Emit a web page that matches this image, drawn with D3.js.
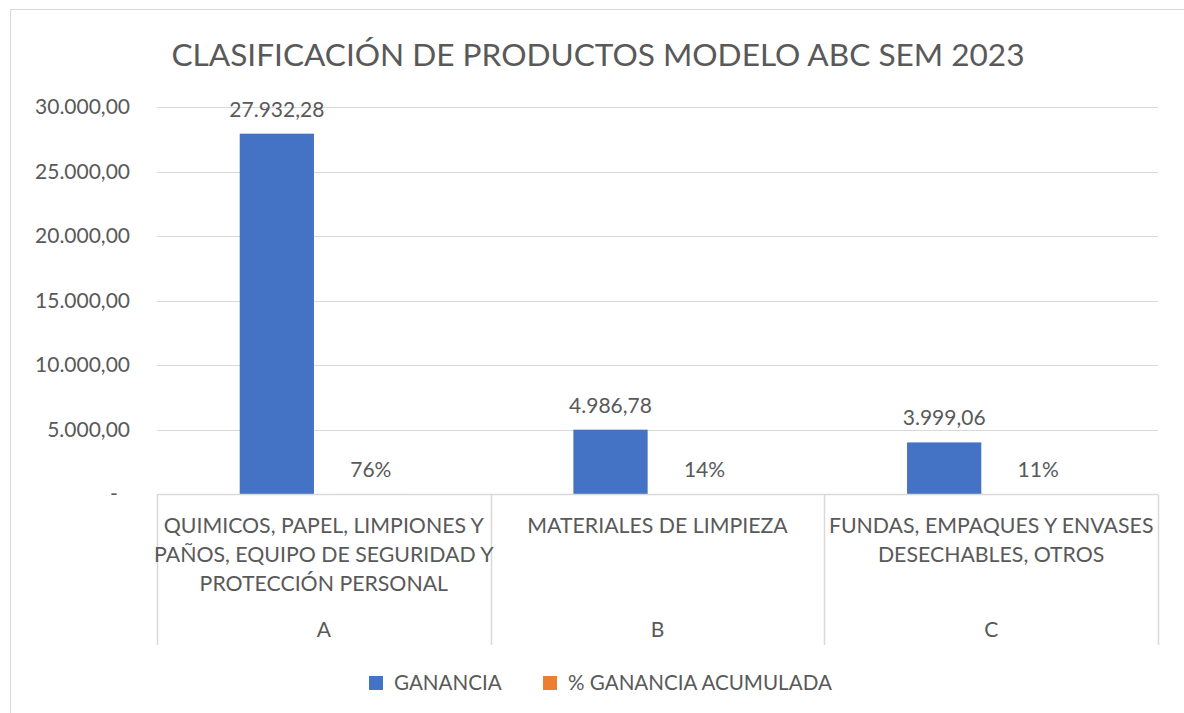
<!DOCTYPE html>
<html>
<head>
<meta charset="utf-8">
<script src="https://cdn.jsdelivr.net/npm/d3@7"></script>
<style>
  body { margin: 0; background: #fff; }
  text { font-family: Lato, "Open Sans", sans-serif; fill: #595959; }
</style>
</head>
<body>
<div id="chart"></div>
<script>
// chart data
const categories = ["A", "B", "C"];
const categoryLabels = [
  "QUIMICOS, PAPEL, LIMPIONES Y\nPAÑOS, EQUIPO DE SEGURIDAD Y\nPROTECCIÓN PERSONAL",
  "MATERIALES DE LIMPIEZA",
  "FUNDAS, EMPAQUES Y ENVASES\nDESECHABLES, OTROS"
];
const seriesNames = ["GANANCIA", "% GANANCIA ACUMULADA"];
const ganancia = [27932.28, 4986.78, 3999.06];
const pctAcumulada = [0.76, 0.14, 0.11];
const yTicks = [0, 5000, 10000, 15000, 20000, 25000, 30000];

const width = 1184, height = 713;
const margin = { top: 107, right: 26, bottom: 219, left: 157 };
const colors = { "GANANCIA": "#4472C4", "% GANANCIA ACUMULADA": "#ED7D31" };

const es = d3.formatLocale({ decimal: ",", thousands: ".", grouping: [3], currency: ["", ""] });
const fmtNum = es.format(",.2f");
const fmtPct = es.format(".0%");

const svg = d3.select("#chart")
  .append("svg")
  .attr("width", width)
  .attr("height", height);

// outer chart frame
svg.append("rect")
  .attr("x", 10.5).attr("y", 9.5)
  .attr("width", 1200).attr("height", 800)
  .attr("fill", "none")
  .attr("stroke", "#d9d9d9");

svg.append("text")
  .attr("x", 598)
  .attr("y", 66)
  .attr("text-anchor", "middle")
  .attr("font-size", 31.6)
  .text("CLASIFICACIÓN DE PRODUCTOS MODELO ABC SEM 2023");

const x = d3.scaleBand()
  .domain(categories)
  .range([margin.left, width - margin.right]);

const xSeries = d3.scaleBand()
  .domain(seriesNames)
  .range([0, x.bandwidth()])
  .paddingInner(0.21)
  .paddingOuter(0.88);

const y = d3.scaleLinear()
  .domain([0, 30000])
  .range([height - margin.bottom, margin.top]);

// gridlines
svg.append("g")
  .selectAll("line")
  .data(yTicks.filter(d => d > 0))
  .join("line")
  .attr("x1", margin.left)
  .attr("x2", width - margin.right)
  .attr("y1", d => Math.round(y(d)) + 0.5)
  .attr("y2", d => Math.round(y(d)) + 0.5)
  .attr("stroke", "#d9d9d9");

// y axis labels
svg.append("g")
  .selectAll("text")
  .data(yTicks)
  .join("text")
  .attr("x", 130)
  .attr("y", d => y(d))
  .attr("dy", "0.35em")
  .attr("text-anchor", "end")
  .attr("font-size", 21)
  .style("white-space", "pre")
  .text(d => d === 0 ? "-\u2007" : fmtNum(d));

const rows = categories.map((c, i) => ({
  cat: c,
  values: [
    { series: seriesNames[0], value: ganancia[i], label: fmtNum(ganancia[i]) },
    { series: seriesNames[1], value: pctAcumulada[i], label: fmtPct(pctAcumulada[i]) }
  ]
}));

const groups = svg.append("g")
  .selectAll("g")
  .data(rows)
  .join("g")
  .attr("transform", d => `translate(${x(d.cat)},0)`);

groups.selectAll("rect")
  .data(d => d.values)
  .join("rect")
  .attr("x", d => xSeries(d.series))
  .attr("width", xSeries.bandwidth())
  .attr("y", d => y(d.value))
  .attr("height", d => y(0) - y(d.value))
  .attr("fill", d => colors[d.series]);

groups.selectAll("text")
  .data(d => d.values)
  .join("text")
  .attr("x", d => xSeries(d.series) + xSeries.bandwidth() / 2)
  .attr("y", d => y(d.value) - 17)
  .attr("text-anchor", "middle")
  .attr("font-size", 21)
  .text(d => d.label);

// category axis
const axisY = Math.round(y(0)) + 0.5;
svg.append("line")
  .attr("x1", margin.left).attr("x2", width - margin.right)
  .attr("y1", axisY).attr("y2", axisY)
  .attr("stroke", "#d9d9d9").attr("stroke-width", 1.5);

const bounds = categories.map(c => x(c)).concat([x.range()[1]]);
svg.append("g")
  .selectAll("line")
  .data(bounds)
  .join("line")
  .attr("x1", d => Math.round(d) + 0.5)
  .attr("x2", d => Math.round(d) + 0.5)
  .attr("y1", axisY)
  .attr("y2", 645)
  .attr("stroke", "#d9d9d9")
  .attr("stroke-width", 1.5);

const catText = svg.append("g")
  .selectAll("text")
  .data(categoryLabels)
  .join("text")
  .attr("text-anchor", "middle")
  .attr("font-size", 21.3);

catText.each(function (d, i) {
  const cx = x(categories[i]) + x.bandwidth() / 2;
  d3.select(this).selectAll("tspan")
    .data(d.split("\n"))
    .join("tspan")
    .attr("x", cx)
    .attr("y", (line, j) => 533 + j * 29)
    .text(line => line);
});

svg.append("g")
  .selectAll("text")
  .data(categories)
  .join("text")
  .attr("x", d => x(d) + x.bandwidth() / 2)
  .attr("y", 637)
  .attr("text-anchor", "middle")
  .attr("font-size", 21)
  .text(d => d);

// legend
const legendPos = [369, 543];
const legend = svg.append("g")
  .selectAll("g")
  .data(seriesNames)
  .join("g")
  .attr("transform", (d, i) => `translate(${legendPos[i]},676)`);

legend.append("rect")
  .attr("width", 14).attr("height", 14)
  .attr("fill", d => colors[d]);

legend.append("text")
  .attr("x", 25)
  .attr("y", 14)
  .attr("font-size", 20.6)
  .text(d => d);
</script>
</body>
</html>
